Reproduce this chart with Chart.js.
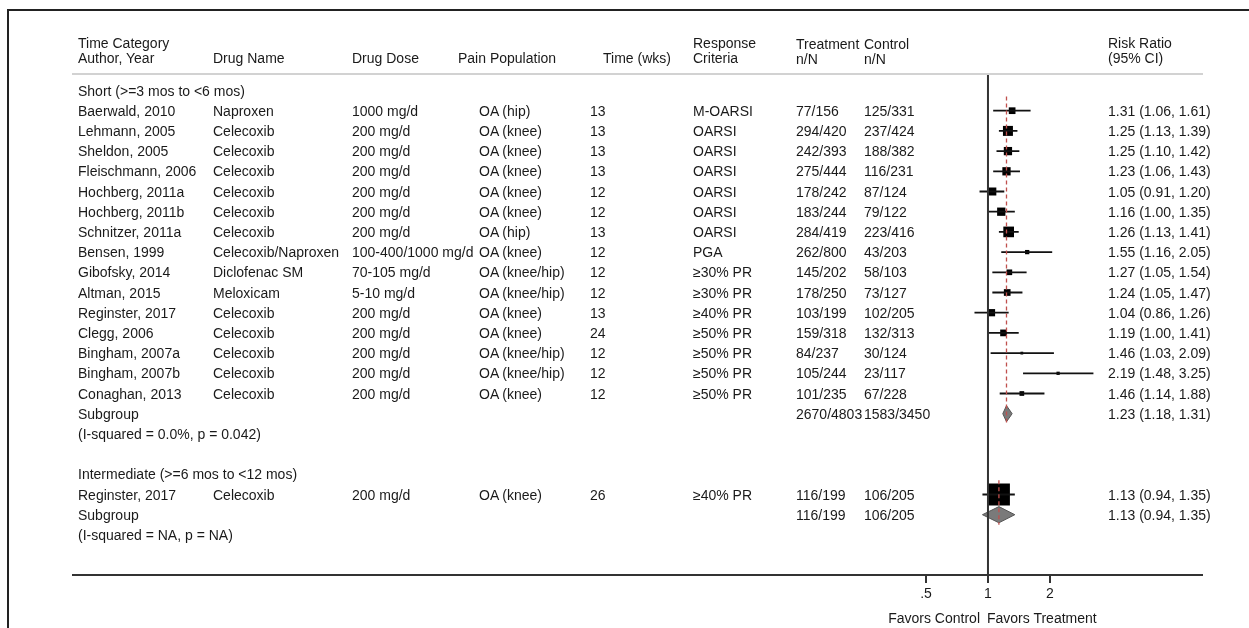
<!DOCTYPE html>
<html>
<head>
<meta charset="utf-8">
<script src="https://cdn.jsdelivr.net/npm/chart.js@4.4.1/dist/chart.umd.min.js"></script>
<style>
  body { margin: 0; width: 1249px; height: 628px; overflow: hidden; background: #fff; position: relative;
         font-family: "Liberation Sans", Arial, Helvetica, sans-serif; font-size: 14px; color: #1a1a1a; }
  #frame { position: absolute; left: 7px; top: 9px; width: 1300px; height: 700px;
           border-top: 2px solid #222; border-left: 2px solid #222; }
  #plot { position: absolute; left: 0; top: 0; }
  .t { position: absolute; white-space: nowrap; line-height: 20px; }
  .rule { position: absolute; height: 2px; }
</style>
</head>
<body>
<div id="frame"></div>
<canvas id="plot" width="1249" height="628"></canvas>
<div id="table"></div>
<script>
// 資料
const groups = ['Short (>=3 mos to <6 mos)', 'Intermediate (>=6 mos to <12 mos)'];
const studyGroup = [0, 0, 0, 0, 0, 0, 0, 0, 0, 0, 0, 0, 0, 0, 0, 1];
const authors = ['Baerwald, 2010', 'Lehmann, 2005', 'Sheldon, 2005', 'Fleischmann, 2006', 'Hochberg, 2011a',
  'Hochberg, 2011b', 'Schnitzer, 2011a', 'Bensen, 1999', 'Gibofsky, 2014', 'Altman, 2015', 'Reginster, 2017',
  'Clegg, 2006', 'Bingham, 2007a', 'Bingham, 2007b', 'Conaghan, 2013', 'Reginster, 2017'];
const drugs = ['Naproxen', 'Celecoxib', 'Celecoxib', 'Celecoxib', 'Celecoxib', 'Celecoxib', 'Celecoxib',
  'Celecoxib/Naproxen', 'Diclofenac SM', 'Meloxicam', 'Celecoxib', 'Celecoxib', 'Celecoxib', 'Celecoxib',
  'Celecoxib', 'Celecoxib'];
const doses = ['1000 mg/d', '200 mg/d', '200 mg/d', '200 mg/d', '200 mg/d', '200 mg/d', '200 mg/d',
  '100-400/1000 mg/d', '70-105 mg/d', '5-10 mg/d', '200 mg/d', '200 mg/d', '200 mg/d', '200 mg/d',
  '200 mg/d', '200 mg/d'];
const populations = ['OA (hip)', 'OA (knee)', 'OA (knee)', 'OA (knee)', 'OA (knee)', 'OA (knee)', 'OA (hip)',
  'OA (knee)', 'OA (knee/hip)', 'OA (knee/hip)', 'OA (knee)', 'OA (knee)', 'OA (knee/hip)', 'OA (knee/hip)',
  'OA (knee)', 'OA (knee)'];
const weeks = [13, 13, 13, 13, 12, 12, 13, 12, 12, 12, 13, 24, 12, 12, 12, 26];
const criteria = ['M-OARSI', 'OARSI', 'OARSI', 'OARSI', 'OARSI', 'OARSI', 'OARSI', 'PGA', '≥30% PR',
  '≥30% PR', '≥40% PR', '≥50% PR', '≥50% PR', '≥50% PR', '≥50% PR', '≥40% PR'];
const treatmentN = ['77/156', '294/420', '242/393', '275/444', '178/242', '183/244', '284/419', '262/800',
  '145/202', '178/250', '103/199', '159/318', '84/237', '105/244', '101/235', '116/199'];
const controlN = ['125/331', '237/424', '188/382', '116/231', '87/124', '79/122', '223/416', '43/203',
  '58/103', '73/127', '102/205', '132/313', '30/124', '23/117', '67/228', '106/205'];
const riskRatio = [1.31, 1.25, 1.25, 1.23, 1.05, 1.16, 1.26, 1.55, 1.27, 1.24, 1.04, 1.19, 1.46, 2.19, 1.46, 1.13];
const ciLow = [1.06, 1.13, 1.10, 1.06, 0.91, 1.00, 1.13, 1.16, 1.05, 1.05, 0.86, 1.00, 1.03, 1.48, 1.14, 0.94];
const ciHigh = [1.61, 1.39, 1.42, 1.43, 1.20, 1.35, 1.41, 2.05, 1.54, 1.47, 1.26, 1.41, 2.09, 3.25, 1.88, 1.35];
// 子群內權重 % (由方塊面積估計)
const weights = [5.9, 13.1, 9.0, 9.0, 8.4, 9.0, 14.9, 2.4, 4.2, 5.9, 6.9, 5.9, 1.0, 1.4, 2.9, 100];

const poolTreatment = ['2670/4803', '116/199'];
const poolControl = ['1583/3450', '106/205'];
const poolRR = [1.23, 1.13];
const poolLow = [1.18, 0.94];
const poolHigh = [1.31, 1.35];
const heterogeneity = ['(I-squared = 0.0%, p = 0.042)', '(I-squared = NA, p = NA)'];

const xTicks = [0.5, 1, 2];
const xTickLabels = ['.5', '1', '2'];

// 版面
const ROW0 = 90.5, ROW_H = 20.2, TOP = 75, AXIS_Y = 575;
const col = { author: 78, drug: 213, dose: 352, pain: 458, painVal: 479, time: 603, timeVal: 590,
  crit: 693, treat: 796, ctrl: 864, rr: 1108 };
const rowY = r => ROW0 + r * ROW_H;
const fmt = (a, b, c) => `${a.toFixed(2)} (${b.toFixed(2)}, ${c.toFixed(2)})`;

// 排列每一列
const studyRow = [], poolRow = [], headRow = [];
let r = 0;
groups.forEach((g, gi) => {
  headRow.push(r++);
  studyGroup.forEach((sg, i) => { if (sg === gi) studyRow[i] = r++; });
  poolRow.push(r);
  r += 3;
});

// 表格文字
const table = document.getElementById('table');
function put(text, x, y, align) {
  const d = document.createElement('div');
  d.className = 't';
  d.textContent = text;
  if (align === 'right') d.style.right = (1249 - x) + 'px';
  else d.style.left = x + 'px';
  d.style.top = (y - 10) + 'px';
  table.appendChild(d);
}
function rule(x1, x2, y, color) {
  const d = document.createElement('div');
  d.className = 'rule';
  d.style.left = x1 + 'px';
  d.style.width = (x2 - x1) + 'px';
  d.style.top = y + 'px';
  d.style.background = color;
  table.appendChild(d);
}

// 標題列
const H1 = 43, H2 = 58;
put('Time Category', col.author, H1);
put('Author, Year', col.author, H2);
put('Drug Name', col.drug, H2);
put('Drug Dose', col.dose, H2);
put('Pain Population', col.pain, H2);
put('Time (wks)', col.time, H2);
put('Response', col.crit, H1);
put('Criteria', col.crit, H2);
put('Treatment', col.treat, H1 + 1);
put('n/N', col.treat, H2 + 1);
put('Control', col.ctrl, H1 + 1);
put('n/N', col.ctrl, H2 + 1);
put('Risk Ratio', col.rr, H1);
put('(95% CI)', col.rr, H2);
rule(72, 1203, 73, '#d2d2d2');
rule(72, 1203, AXIS_Y - 1, '#333');

groups.forEach((g, gi) => put(g, col.author, rowY(headRow[gi])));
authors.forEach((a, i) => {
  const y = rowY(studyRow[i]);
  put(a, col.author, y);
  put(drugs[i], col.drug, y);
  put(doses[i], col.dose, y);
  put(populations[i], col.painVal, y);
  put(String(weeks[i]), col.timeVal, y);
  put(criteria[i], col.crit, y);
  put(treatmentN[i], col.treat, y);
  put(controlN[i], col.ctrl, y);
  put(fmt(riskRatio[i], ciLow[i], ciHigh[i]), col.rr, y);
});
poolRR.forEach((v, gi) => {
  const y = rowY(poolRow[gi]);
  put('Subgroup', col.author, y);
  put(poolTreatment[gi], col.treat, y);
  put(poolControl[gi], col.ctrl, y);
  put(fmt(v, poolLow[gi], poolHigh[gi]), col.rr, y);
  put(heterogeneity[gi], col.author, y + ROW_H);
});
put('Favors Control', 980, 618, 'right');
put('Favors Treatment', 987, 618);

// 森林圖
const ciData = [];
authors.forEach((a, i) => {
  ciData.push({ x: ciLow[i], y: studyRow[i] }, { x: ciHigh[i], y: studyRow[i] }, { x: 1, y: null });
});
const boxData = riskRatio.map((v, i) => ({ x: v, y: studyRow[i] }));
// 方塊邊長 = 2.76·√w，最大 22px；Chart.js 的 rect 邊長 = √2·r
const boxRadius = weights.map(w => Math.min(2.76 * Math.sqrt(w), 22) / Math.SQRT2);

const datasets = [];
// 虛線 (合併效應)
poolRR.forEach((v, gi) => {
  datasets.push({
    type: 'line', data: [{ x: v, y: headRow[gi] + 0.3 }, { x: v, y: poolRow[gi] + 0.5 }],
    borderColor: '#c0504d', borderWidth: 1.3, borderDash: [4, 3], pointRadius: 0, fill: false
  });
});
const yMin = (TOP - ROW0) / ROW_H, yMax = (AXIS_Y - ROW0) / ROW_H;
// 無效線
datasets.push({
  type: 'line', data: [{ x: 1, y: yMin }, { x: 1, y: yMax }],
  borderColor: '#333', borderWidth: 2, pointRadius: 0, fill: false
});
datasets.push({
  type: 'line', data: ciData, borderColor: '#111', borderWidth: 1.8, pointRadius: 0,
  spanGaps: false, fill: false
});
datasets.push({
  type: 'scatter', data: boxData, pointStyle: 'rect', pointRadius: boxRadius,
  backgroundColor: '#000', borderColor: '#000', borderWidth: 0
});
// 菱形
poolRR.forEach((v, gi) => {
  const y = poolRow[gi];
  datasets.push({
    type: 'line',
    data: [{ x: poolLow[gi], y }, { x: v, y: y - 0.4 }, { x: poolHigh[gi], y }, { x: v, y: y + 0.4 }, { x: poolLow[gi], y }],
    borderColor: '#555', borderWidth: 1, backgroundColor: '#7a7a7a', pointRadius: 0, fill: 'shape', tension: 0
  });
});

new Chart(document.getElementById('plot'), {
  type: 'scatter',
  data: { datasets },
  options: {
    responsive: false,
    animation: false,
    layout: { padding: { left: 906, right: 137, top: TOP, bottom: 628 - AXIS_Y - 40 } },
    plugins: { legend: { display: false }, tooltip: { enabled: false } },
    scales: {
      x: {
        type: 'logarithmic', min: 0.4, max: 4,
        afterBuildTicks: s => { s.ticks = xTicks.map(v => ({ value: v })); },
        afterFit: s => { s.height = 40; },
        ticks: {
          autoSkip: false, maxRotation: 0, padding: 3, color: '#1a1a1a',
          font: { family: '"Liberation Sans", Arial, sans-serif', size: 14 },
          callback: v => xTickLabels[xTicks.indexOf(v)]
        },
        grid: { drawOnChartArea: false, drawTicks: true, tickLength: 8, color: '#333', lineWidth: 2 },
        border: { display: false }
      },
      y: { type: 'linear', min: yMin, max: yMax, reverse: true, display: false }
    }
  }
});
</script>
</body>
</html>
